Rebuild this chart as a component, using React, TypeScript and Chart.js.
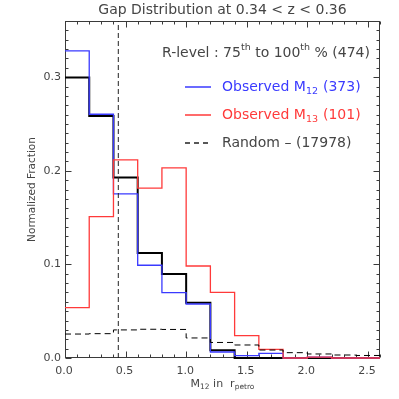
import React, { useEffect, useRef } from "react";
import { Chart, registerables } from "chart.js";

Chart.register(...registerables);

// ---- data ----
const BIN_EDGES = [0, 0.2, 0.4, 0.6, 0.8, 1.0, 1.2, 1.4, 1.6, 1.8, 2.0, 2.2, 2.4, 2.6];
const OBS_M12 = [0.328, 0.2604, 0.1753, 0.0991, 0.0698, 0.0577, 0.0064, 0.0025, 0.005, 0.0, 0.001, 0.0, 0.0];
const OBS_M13 = [0.0538, 0.151, 0.2116, 0.1814, 0.2031, 0.0983, 0.0702, 0.0238, 0.0093, 0.0, 0.001, 0.0, 0.0];
const COMBINED = [0.2996, 0.2586, 0.1927, 0.1122, 0.0898, 0.0591, 0.0082, 0.0, 0.0, 0.0, 0.0, 0.0, 0.0];
const RANDOM = [0.0256, 0.026, 0.030, 0.0307, 0.0305, 0.0214, 0.0166, 0.0139, 0.0085, 0.0057, 0.0043, 0.0032, 0.0027];
const MEDIAN_LINE = 0.44;

const X_TICKS = [0, 0.5, 1.0, 1.5, 2.0, 2.5];
const X_TICK_LABELS = ["0.0", "0.5", "1.0", "1.5", "2.0", "2.5"];
const Y_TICKS = [0, 0.1, 0.2, 0.3];
const Y_TICK_LABELS = ["0.0", "0.1", "0.2", "0.3"];
const X_MAX = 2.6;
const Y_MAX = 0.36;
const X_MINOR_STEP = 0.1;
const Y_MINOR_STEP = 0.01;

const TITLE = "Gap Distribution at 0.34 < z < 0.36";
const Y_TITLE = "Normalized Fraction";

const BLUE = "#3a3aff";
const RED = "#ff3a3a";
const TEXT = "#454545";
const FONT = "'DejaVu Sans', sans-serif";

function steps(values: number[]) {
  const pts: { x: number; y: number }[] = [];
  values.forEach((v, i) => {
    pts.push({ x: BIN_EDGES[i], y: v });
    pts.push({ x: BIN_EDGES[i + 1], y: v });
  });
  return pts;
}

type Seg = { t: string; sub?: boolean; sup?: boolean };

function drawRich(ctx: CanvasRenderingContext2D, x: number, y: number, segs: Seg[], size: number, color: string, align: "left" | "center" = "left") {
  ctx.save();
  ctx.fillStyle = color;
  ctx.textBaseline = "middle";
  ctx.textAlign = "left";
  const widths = segs.map((s) => {
    const sz = s.sub || s.sup ? size * 0.68 : size;
    ctx.font = `${sz}px ${FONT}`;
    return ctx.measureText(s.t).width;
  });
  const total = widths.reduce((a, b) => a + b, 0);
  let cx = align === "center" ? x - total / 2 : x;
  segs.forEach((s, i) => {
    const sz = s.sub || s.sup ? size * 0.68 : size;
    ctx.font = `${sz}px ${FONT}`;
    const dy = s.sub ? size * 0.3 : s.sup ? -size * 0.38 : 0;
    ctx.fillText(s.t, cx, y + dy);
    cx += widths[i];
  });
  ctx.restore();
}

const framePlugin = {
  id: "frame",
  beforeDatasetsDraw(chart: any) {
    const { ctx, chartArea: a, scales } = chart;
    const xs = scales.x;
    const ys = scales.y;
    const L = Math.round(a.left) + 0.5;
    const R = Math.round(a.right) - 0.5;
    const T = Math.round(a.top) + 0.5;
    const B = Math.round(a.bottom) - 0.5;
    ctx.save();
    ctx.strokeStyle = "#3a3a3a";
    ctx.lineWidth = 1;
    ctx.strokeRect(L, T, R - L, B - T);
    ctx.beginPath();
    const nx = Math.round(X_MAX / X_MINOR_STEP);
    for (let i = 0; i <= nx; i++) {
      const v = i * X_MINOR_STEP;
      const major = X_TICKS.some((t) => Math.abs(t - v) < 1e-6);
      const len = major ? 6 : 3;
      const px = Math.round(xs.getPixelForValue(v)) + 0.5;
      ctx.moveTo(px, B);
      ctx.lineTo(px, B - len);
      ctx.moveTo(px, T);
      ctx.lineTo(px, T + len);
    }
    const ny = Math.round(Y_MAX / Y_MINOR_STEP);
    for (let i = 0; i <= ny; i++) {
      const v = i * Y_MINOR_STEP;
      const major = Y_TICKS.some((t) => Math.abs(t - v) < 1e-6);
      const len = major ? 6 : 3;
      const py = Math.round(ys.getPixelForValue(v)) + 0.5;
      ctx.moveTo(L, py);
      ctx.lineTo(L + len, py);
      ctx.moveTo(R, py);
      ctx.lineTo(R - len, py);
    }
    ctx.stroke();
    ctx.restore();
  },
  afterDraw(chart: any) {
    const { ctx, chartArea: a, scales } = chart;
    const xs = scales.x;
    const ys = scales.y;
    ctx.save();
    ctx.fillStyle = TEXT;
    // title
    ctx.font = `14px ${FONT}`;
    ctx.textAlign = "center";
    ctx.textBaseline = "middle";
    ctx.fillText(TITLE, (a.left + a.right) / 2, 10);
    // tick labels
    ctx.font = `11px ${FONT}`;
    X_TICKS.forEach((v, i) => {
      ctx.fillText(X_TICK_LABELS[i], xs.getPixelForValue(v) - 1, 371);
    });
    ctx.textAlign = "right";
    Y_TICKS.forEach((v, i) => {
      ctx.fillText(Y_TICK_LABELS[i], a.left - 4, ys.getPixelForValue(v));
    });
    // y title
    ctx.save();
    ctx.translate(32, (a.top + a.bottom) / 2);
    ctx.rotate(-Math.PI / 2);
    ctx.textAlign = "center";
    ctx.font = `10.5px ${FONT}`;
    ctx.fillText(Y_TITLE, 0, 0);
    ctx.restore();
    // x title
    drawRich(ctx, (a.left + a.right) / 2, 384, [
      { t: "M" }, { t: "12", sub: true }, { t: " in  r" }, { t: "petro", sub: true },
    ], 11, TEXT, "center");

    // legend
    drawRich(ctx, 162, 53, [
      { t: "R-level : 75" }, { t: "th", sup: true }, { t: " to 100" }, { t: "th", sup: true }, { t: " % (474)" },
    ], 14, TEXT);
    const items = [
      { color: BLUE, dash: [] as number[], segs: [{ t: "Observed M" }, { t: "12", sub: true }], count: "(373)", cx: 323, y: 87, textColor: BLUE },
      { color: RED, dash: [] as number[], segs: [{ t: "Observed M" }, { t: "13", sub: true }], count: "(101)", cx: 323, y: 115, textColor: RED },
      { color: "#222", dash: [5, 4], segs: [{ t: "Random \u2013" }], count: "(17978)", cx: 296, y: 143, textColor: TEXT },
    ];
    items.forEach((it) => {
      ctx.save();
      ctx.strokeStyle = it.color;
      ctx.lineWidth = 1.5;
      ctx.setLineDash(it.dash);
      ctx.beginPath();
      ctx.moveTo(185, it.y);
      ctx.lineTo(211, it.y);
      ctx.stroke();
      ctx.restore();
      drawRich(ctx, 222, it.y, it.segs, 14, it.textColor);
      drawRich(ctx, it.cx, it.y, [{ t: it.count }], 14, it.textColor);
    });
    ctx.restore();
  },
};

export default function App() {
  const ref = useRef<HTMLCanvasElement | null>(null);
  useEffect(() => {
    document.body.style.margin = "0";
    document.body.style.overflow = "hidden";
    const canvas = ref.current!;
    const chart = new Chart(canvas, {
      type: "line",
      data: {
        datasets: [
          { label: "Random", data: steps(RANDOM), borderColor: "#000", borderWidth: 1, borderDash: [6, 4], pointRadius: 0, fill: false, clip: false } as any,
          { label: "Median", data: [{ x: MEDIAN_LINE, y: 0 }, { x: MEDIAN_LINE, y: Y_MAX }], borderColor: "#222", borderWidth: 1, borderDash: [5, 3], pointRadius: 0, fill: false, clip: false } as any,
          { label: "Observed M13", data: steps(OBS_M13), borderColor: RED, borderWidth: 1.3, pointRadius: 0, fill: false, clip: false } as any,
          { label: "Observed M12", data: steps(OBS_M12), borderColor: BLUE, borderWidth: 1.3, pointRadius: 0, fill: false, clip: false } as any,
          { label: "Combined", data: steps(COMBINED), borderColor: "#000", borderWidth: 2, pointRadius: 0, fill: false, clip: false } as any,
        ],
      },
      options: {
        responsive: false,
        animation: false,
        layout: { padding: { left: 65, right: 19, top: 21, bottom: 41 } },
        scales: {
          x: { type: "linear", min: 0, max: X_MAX, display: false },
          y: { type: "linear", min: 0, max: Y_MAX, display: false },
        },
        plugins: { legend: { display: false }, tooltip: { enabled: false }, title: { display: false } },
      },
      plugins: [framePlugin],
    });
    return () => chart.destroy();
  }, []);
  return (
    <div style={{ width: 399, height: 399, background: "#fff" }}>
      <canvas ref={ref} width={399} height={399} style={{ display: "block" }} />
    </div>
  );
}
